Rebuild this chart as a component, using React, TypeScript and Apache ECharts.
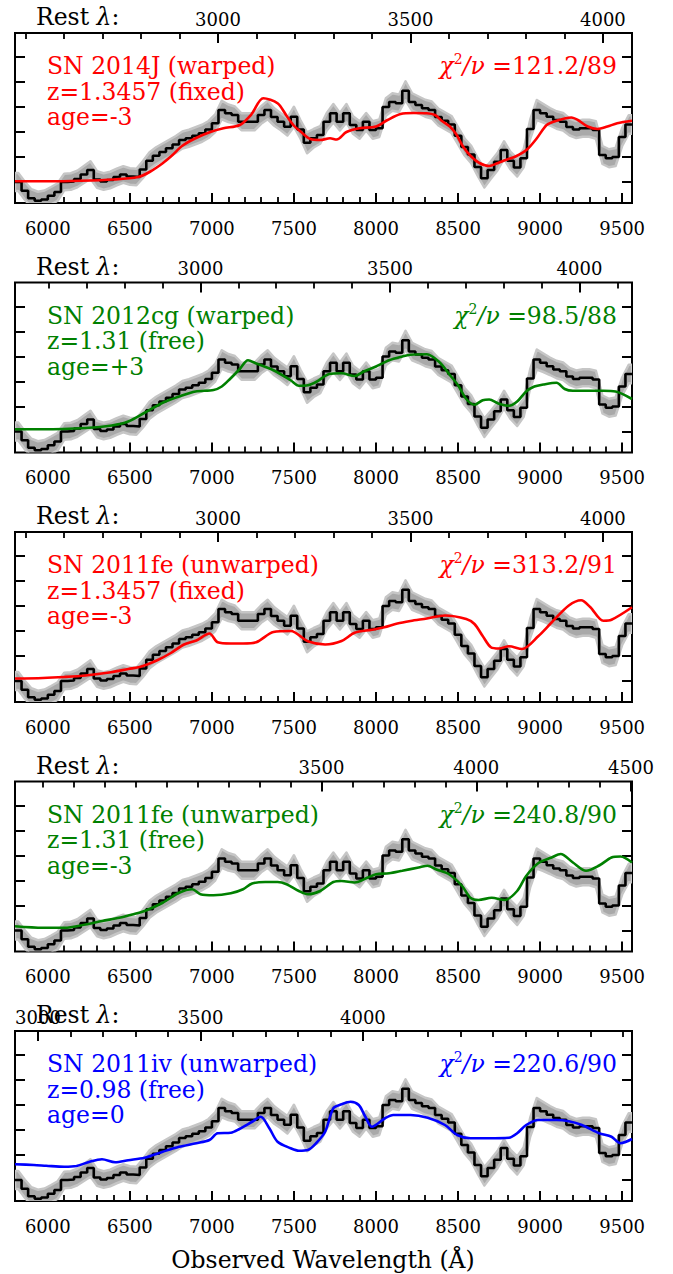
import React, { useEffect, useRef } from "react";
import * as echarts from "echarts";

const FONT = '"DejaVu Serif", "Liberation Serif", serif';

// ---- Observed spectrum (40 Å bins starting at 5800 Å), arbitrary flux units ----
const binStart = 5800;
const binWidth = 40;
const flux = [
  0.0, -0.35, -0.65, -0.75, -0.7, -0.55, -0.4, 0.0, 0.02, 0.12,
  0.3, 0.48, 0.1, 0.02, 0.08, 0.2, 0.3, 0.22, 0.2, 0.5,
  0.85, 1.05, 1.2, 1.35, 1.5, 1.68, 1.75, 1.85, 1.95, 2.1,
  2.35, 2.88, 2.75, 2.68, 2.41, 2.41, 2.41, 2.68, 2.88, 2.6,
  2.41, 2.21, 2.61, 2.1, 1.57, 1.75, 1.88, 2.41, 2.75, 2.41,
  2.75, 2.28, 2.08, 2.41, 2.08, 2.15, 3.0, 3.2, 3.15, 3.65,
  3.2, 3.08, 2.95, 2.88, 2.6, 2.45, 2.3, 1.85, 1.4, 1.1,
  0.6, 0.15, 0.48, 0.81, 1.28, 0.85, 0.58, 0.95, 2.12, 2.88,
  2.75, 2.61, 2.48, 2.41, 2.2, 2.1, 2.15, 2.15, 2.08, 1.08,
  0.95, 1.0, 1.8, 2.3,
];
const fluxErr = [
  0.36, 0.36, 0.36, 0.36, 0.36, 0.35, 0.35, 0.33, 0.33, 0.33,
  0.34, 0.35, 0.33, 0.33, 0.33, 0.33, 0.33, 0.33, 0.33, 0.34,
  0.34, 0.34, 0.34, 0.34, 0.34, 0.34, 0.34, 0.34, 0.34, 0.34,
  0.35, 0.37, 0.35, 0.34, 0.34, 0.34, 0.34, 0.35, 0.37, 0.35,
  0.34, 0.35, 0.4, 0.37, 0.42, 0.37, 0.35, 0.35, 0.37, 0.35,
  0.37, 0.35, 0.35, 0.35, 0.35, 0.35, 0.35, 0.35, 0.35, 0.38,
  0.35, 0.34, 0.34, 0.34, 0.34, 0.34, 0.34, 0.34, 0.34, 0.35,
  0.36, 0.37, 0.35, 0.35, 0.35, 0.35, 0.36, 0.36, 0.38, 0.4,
  0.37, 0.35, 0.35, 0.35, 0.34, 0.34, 0.34, 0.34, 0.35, 0.36,
  0.36, 0.36, 0.36, 0.37,
];

// ---- Template fits ----
const sn2014jWarpedX = [5800, 6000, 6200, 6400, 6550, 6620, 6700, 6760, 6820, 6900, 6990, 7070, 7170, 7240, 7313, 7400, 7455, 7500, 7540, 7600, 7660, 7720, 7760, 7820, 7900, 8000, 8070, 8150, 8230, 8310, 8360, 8400, 8450, 8490, 8530, 8580, 8630, 8690, 8740, 8790, 8850, 8920, 8980, 9040, 9100, 9190, 9230, 9290, 9350, 9410, 9470, 9560];
const sn2014jWarpedY = [0.03, 0.03, 0.05, 0.1, 0.2, 0.4, 0.75, 1.08, 1.45, 1.75, 2.0, 2.15, 2.28, 2.7, 3.35, 3.15, 2.65, 2.25, 2.02, 1.72, 1.68, 1.75, 1.7, 2.0, 2.15, 2.22, 2.48, 2.72, 2.76, 2.75, 2.68, 2.45, 2.22, 1.9, 1.42, 1.02, 0.76, 0.64, 0.75, 0.88, 1.02, 1.3, 1.75, 2.28, 2.45, 2.58, 2.48, 2.22, 2.12, 2.22, 2.35, 2.45];

const sn2012cgX = [5800, 5970, 6230, 6390, 6490, 6590, 6700, 6800, 6900, 7010, 7060, 7110, 7170, 7220, 7270, 7375, 7480, 7530, 7585, 7640, 7715, 7790, 7870, 7925, 8000, 8080, 8160, 8210, 8310, 8390, 8445, 8500, 8550, 8600, 8650, 8690, 8745, 8810, 8860, 8915, 8965, 9020, 9100, 9150, 9200, 9280, 9385, 9460, 9560];
const sn2012cgY = [0.09, 0.09, 0.14, 0.24, 0.4, 0.75, 1.15, 1.4, 1.6, 1.66, 1.8, 2.1, 2.5, 2.85, 2.72, 2.45, 2.05, 1.83, 1.85, 2.0, 2.3, 2.33, 2.22, 2.4, 2.6, 2.85, 3.0, 3.07, 3.09, 2.75, 2.3, 1.85, 1.3, 1.07, 1.25, 1.28, 1.12, 1.03, 1.2, 1.6, 1.8, 1.88, 1.95, 1.7, 1.63, 1.63, 1.63, 1.6, 1.3];

const sn2011feFixedX = [5800, 5970, 6100, 6230, 6385, 6490, 6565, 6670, 6750, 6830, 6905, 6985, 7035, 7115, 7190, 7270, 7375, 7480, 7585, 7690, 7790, 7870, 7975, 8050, 8130, 8210, 8310, 8420, 8550, 8600, 8650, 8700, 8750, 8810, 8890, 8990, 9070, 9175, 9250, 9305, 9385, 9435, 9560];
const sn2011feFixedY = [0.1, 0.12, 0.16, 0.22, 0.35, 0.48, 0.57, 0.84, 1.12, 1.46, 1.62, 1.9, 1.55, 1.5, 1.5, 1.55, 1.96, 2.0, 1.59, 1.46, 1.6, 1.93, 2.05, 2.15, 2.3, 2.4, 2.5, 2.62, 2.48, 2.28, 1.8, 1.35, 1.3, 1.39, 1.28, 1.8, 2.34, 3.02, 3.23, 2.96, 2.41, 2.45, 2.95];

const sn2011feFreeX = [5800, 5970, 6100, 6230, 6330, 6435, 6515, 6590, 6700, 6800, 6880, 6930, 7010, 7115, 7190, 7245, 7325, 7400, 7455, 7530, 7585, 7660, 7740, 7790, 7870, 7950, 8000, 8080, 8160, 8260, 8315, 8365, 8445, 8525, 8575, 8625, 8705, 8785, 8860, 8915, 8990, 9070, 9125, 9200, 9280, 9360, 9435, 9490, 9560];
const sn2011feFreeY = [0.17, 0.11, 0.11, 0.24, 0.38, 0.51, 0.64, 0.78, 1.11, 1.51, 1.65, 1.45, 1.41, 1.49, 1.65, 1.88, 1.94, 1.94, 1.85, 1.58, 1.45, 1.58, 1.94, 1.98, 1.92, 2.12, 2.25, 2.29, 2.39, 2.52, 2.59, 2.45, 2.25, 1.78, 1.31, 1.22, 1.31, 1.22, 1.58, 2.18, 2.7, 2.92, 3.06, 2.72, 2.39, 2.6, 2.92, 2.96, 2.72];

const sn2011ivX = [5800, 5915, 5990, 6100, 6175, 6255, 6330, 6410, 6490, 6590, 6700, 6800, 6905, 6985, 7035, 7115, 7165, 7245, 7297, 7350, 7400, 7480, 7530, 7585, 7635, 7690, 7740, 7790, 7845, 7895, 7935, 7975, 8055, 8105, 8210, 8315, 8420, 8495, 8575, 8680, 8810, 8860, 8915, 8990, 9100, 9175, 9255, 9360, 9435, 9490, 9560];
const sn2011ivY = [0.63, 0.6, 0.57, 0.53, 0.56, 0.73, 0.83, 0.71, 0.79, 0.89, 1.13, 1.33, 1.47, 1.6, 1.87, 1.89, 2.03, 2.33, 2.53, 2.07, 1.53, 1.27, 1.17, 1.2, 1.47, 1.93, 2.87, 3.03, 3.13, 3.0, 2.53, 2.13, 2.47, 2.6, 2.6, 2.49, 2.2, 1.8, 1.67, 1.67, 1.69, 1.87, 2.2, 2.4, 2.4, 2.35, 2.2, 1.87, 1.73, 1.47, 1.64];

const modelX = [sn2014jWarpedX, sn2012cgX, sn2011feFixedX, sn2011feFreeX, sn2011ivX];
const modelY = [sn2014jWarpedY, sn2012cgY, sn2011feFixedY, sn2011feFreeY, sn2011ivY];

// ---- Panel texts ----
const panelNames = ["SN 2014J (warped)", "SN 2012cg (warped)", "SN 2011fe (unwarped)", "SN 2011fe (unwarped)", "SN 2011iv (unwarped)"];
const zLabels = ["z=1.3457 (fixed)", "z=1.31 (free)", "z=1.3457 (fixed)", "z=1.31 (free)", "z=0.98 (free)"];
const ageLabels = ["age=-3", "age=+3", "age=-3", "age=-3", "age=0"];
const chi2Labels = ["121.2/89", "98.5/88", "313.2/91", "240.8/90", "220.6/90"];
const panelColors = ["#ff0000", "#008000", "#ff0000", "#008000", "#0000ff"];

// ---- Axes ----
const xMin = 5800;
const xMax = 9560;
const obsMajor = [6000, 6500, 7000, 7500, 8000, 8500, 9000, 9500];
// rest-frame axis: observed = restOffset + restScale * rest
const restScale = [2.3457, 2.31, 2.3457, 1.886, 1.98];
const restOffset = [0, 0, 0, 1067, 0];
const restMajor = [
  [3000, 3500, 4000],
  [3000, 3500, 4000],
  [3000, 3500, 4000],
  [3500, 4000, 4500],
  [3000, 3500, 4000],
];
const yTicks = [0, 1, 2, 3, 4, 5];
const yMin = -0.84;
const yMax = 5.96;

const panelTops = [33, 282.5, 532, 781.5, 1031];
const GRID_LEFT = 15;
const GRID_W = 617;
const GRID_H = 170;

function buildOption() {
  const n = flux.length;
  const stepData: number[][] = [];
  for (let k = 0; k < n; k++) stepData.push([binStart + k * binWidth, flux[k]]);
  stepData.push([binStart + n * binWidth, flux[n - 1]]);

  const bandX: number[] = [binStart];
  const bandLo: number[] = [flux[0] - fluxErr[0]];
  const bandHi: number[] = [flux[0] + fluxErr[0]];
  for (let k = 0; k < n; k++) {
    bandX.push(binStart + (k + 0.5) * binWidth);
    bandLo.push(flux[k] - fluxErr[k]);
    bandHi.push(flux[k] + fluxErr[k]);
  }
  bandX.push(binStart + n * binWidth);
  bandLo.push(flux[n - 1] - fluxErr[n - 1]);
  bandHi.push(flux[n - 1] + fluxErr[n - 1]);

  const obsMinor: number[] = [];
  for (let v = 5900; v <= 9500; v += 100) if (v % 500 !== 0) obsMinor.push(v);

  const grids: any[] = [];
  const xAxes: any[] = [];
  const yAxes: any[] = [];
  const series: any[] = [];
  const graphics: any[] = [];

  const baseX = {
    type: "value",
    min: xMin,
    max: xMax,
    axisLine: { show: false, onZero: false },
    splitLine: { show: false },
  };
  const baseY = {
    type: "value",
    min: yMin,
    max: yMax,
    axisLine: { show: false, onZero: false },
    splitLine: { show: false },
    axisLabel: { show: false },
    axisTick: {
      show: true,
      inside: true,
      length: 10,
      customValues: yTicks,
      lineStyle: { color: "#000", width: 2 },
    },
  };

  panelTops.forEach((T, g) => {
    grids.push({
      left: GRID_LEFT,
      top: T,
      width: GRID_W,
      height: GRID_H,
      show: true,
      borderColor: "#000",
      borderWidth: 2,
      backgroundColor: "rgba(0,0,0,0)",
    });

    const restMinorObs: number[] = [];
    for (let r = 2000; r <= 5000; r += 100) {
      const o = restOffset[g] + restScale[g] * r;
      if (o > xMin + 2 && o < xMax - 2 && restMajor[g].indexOf(r) < 0) restMinorObs.push(o);
    }
    const restMajorObs = restMajor[g].map((r) => restOffset[g] + restScale[g] * r);

    xAxes.push({
      ...baseX,
      gridIndex: g,
      position: "bottom",
      axisTick: { inside: true, length: 10, customValues: obsMajor, lineStyle: { color: "#000", width: 2 } },
      axisLabel: {
        customValues: obsMajor,
        fontSize: 18,
        fontFamily: FONT,
        color: "#000",
        margin: 16,
        formatter: (v: number) => String(Math.round(v)),
      },
    });
    xAxes.push({
      ...baseX,
      gridIndex: g,
      position: "bottom",
      axisTick: { inside: true, length: 6, customValues: obsMinor, lineStyle: { color: "#000", width: 1.8 } },
      axisLabel: { show: false },
    });
    xAxes.push({
      ...baseX,
      gridIndex: g,
      position: "top",
      axisTick: { inside: true, length: 10, customValues: restMajorObs, lineStyle: { color: "#000", width: 2 } },
      axisLabel: {
        customValues: restMajorObs,
        fontSize: 18,
        fontFamily: FONT,
        color: "#000",
        margin: 5,
        formatter: (v: number) => String(Math.round((v - restOffset[g]) / restScale[g])),
      },
    });
    xAxes.push({
      ...baseX,
      gridIndex: g,
      position: "top",
      axisTick: { inside: true, length: 6, customValues: restMinorObs, lineStyle: { color: "#000", width: 1.8 } },
      axisLabel: { show: false },
    });

    yAxes.push({ ...baseY, gridIndex: g, position: "left" });
    yAxes.push({ ...baseY, gridIndex: g, position: "right" });

    const xi = g * 4;
    const yi = g * 2;
    // error band (polygon through bin centres, drawn via the axes' scales)
    series.push({
      type: "custom",
      xAxisIndex: xi,
      yAxisIndex: yi,
      data: bandX.map((x, i) => [x, bandLo[i], bandHi[i]]),
      encode: { x: 0, y: [1, 2] },
      clip: true,
      silent: true,
      z: 1,
      renderItem: (params: any, api: any) => {
        if (params.dataIndex !== 0) return null;
        const pts: number[][] = [];
        for (let i = 0; i < bandX.length; i++) pts.push(api.coord([bandX[i], bandHi[i]]));
        for (let i = bandX.length - 1; i >= 0; i--) pts.push(api.coord([bandX[i], bandLo[i]]));
        return {
          type: "polygon",
          shape: { points: pts },
          style: { fill: "#a9a9a9", stroke: "#c6c6c6", lineWidth: 2.5, lineJoin: "round" },
        };
      },
    });
    series.push({
      type: "line",
      xAxisIndex: xi,
      yAxisIndex: yi,
      data: stepData,
      step: "end",
      symbol: "none",
      lineStyle: { color: "#000", width: 2.6 },
      silent: true,
      z: 2,
    });
    series.push({
      type: "line",
      xAxisIndex: xi,
      yAxisIndex: yi,
      data: modelX[g].map((x, i) => [x, modelY[g][i]]),
      smooth: 0.3,
      symbol: "none",
      lineStyle: { color: panelColors[g], width: 2.6 },
      silent: true,
      z: 3,
    });

    const color = panelColors[g];
    const lines = [panelNames[g], zLabels[g], ageLabels[g]];
    lines.forEach((t, li) => {
      graphics.push({
        type: "text",
        x: 47,
        y: T + 33 + li * 25.5,
        z: 10,
        style: {
          text: t,
          fill: color,
          fontSize: 23.5,
          fontFamily: FONT,
          align: "left",
          verticalAlign: "middle",
        },
      });
    });
    graphics.push({
      type: "text",
      x: 617,
      y: T + 33,
      z: 10,
      style: {
        text: "{i|χ}{s|2}{i|/ν} =" + chi2Labels[g],
        fill: color,
        fontSize: 23.5,
        fontFamily: FONT,
        align: "right",
        verticalAlign: "middle",
        rich: {
          i: { fontStyle: "italic", fontSize: 23.5, fontFamily: FONT, fill: color },
          s: { fontSize: 14, fontFamily: FONT, fill: color, padding: [0, 0, 14, 0] },
        },
      },
    });
    graphics.push({
      type: "text",
      x: 36,
      y: T - 16,
      z: 10,
      style: {
        text: "Rest {i|λ}:",
        fill: "#000",
        fontSize: 23.5,
        fontFamily: FONT,
        align: "left",
        verticalAlign: "middle",
        rich: {
          i: { fontStyle: "italic", fontSize: 23.5, fontFamily: FONT, fill: "#000" },
        },
      },
    });
  });

  graphics.push({
    type: "text",
    x: 323,
    y: 1260,
    style: {
      text: "Observed Wavelength (Å)",
      fill: "#000",
      fontSize: 23.5,
      fontFamily: FONT,
      align: "center",
      verticalAlign: "middle",
    },
  });

  return {
    animation: false,
    backgroundColor: "#ffffff",
    grid: grids,
    xAxis: xAxes,
    yAxis: yAxes,
    series,
    graphic: graphics,
  };
}

export default function App() {
  const ref = useRef<HTMLDivElement>(null);
  useEffect(() => {
    document.body.style.margin = "0";
    const chart = echarts.init(ref.current as HTMLDivElement, undefined, { renderer: "svg" });
    chart.setOption(buildOption() as any);
    return () => {
      chart.dispose();
    };
  }, []);
  return <div ref={ref} style={{ width: 673, height: 1274 }} />;
}
